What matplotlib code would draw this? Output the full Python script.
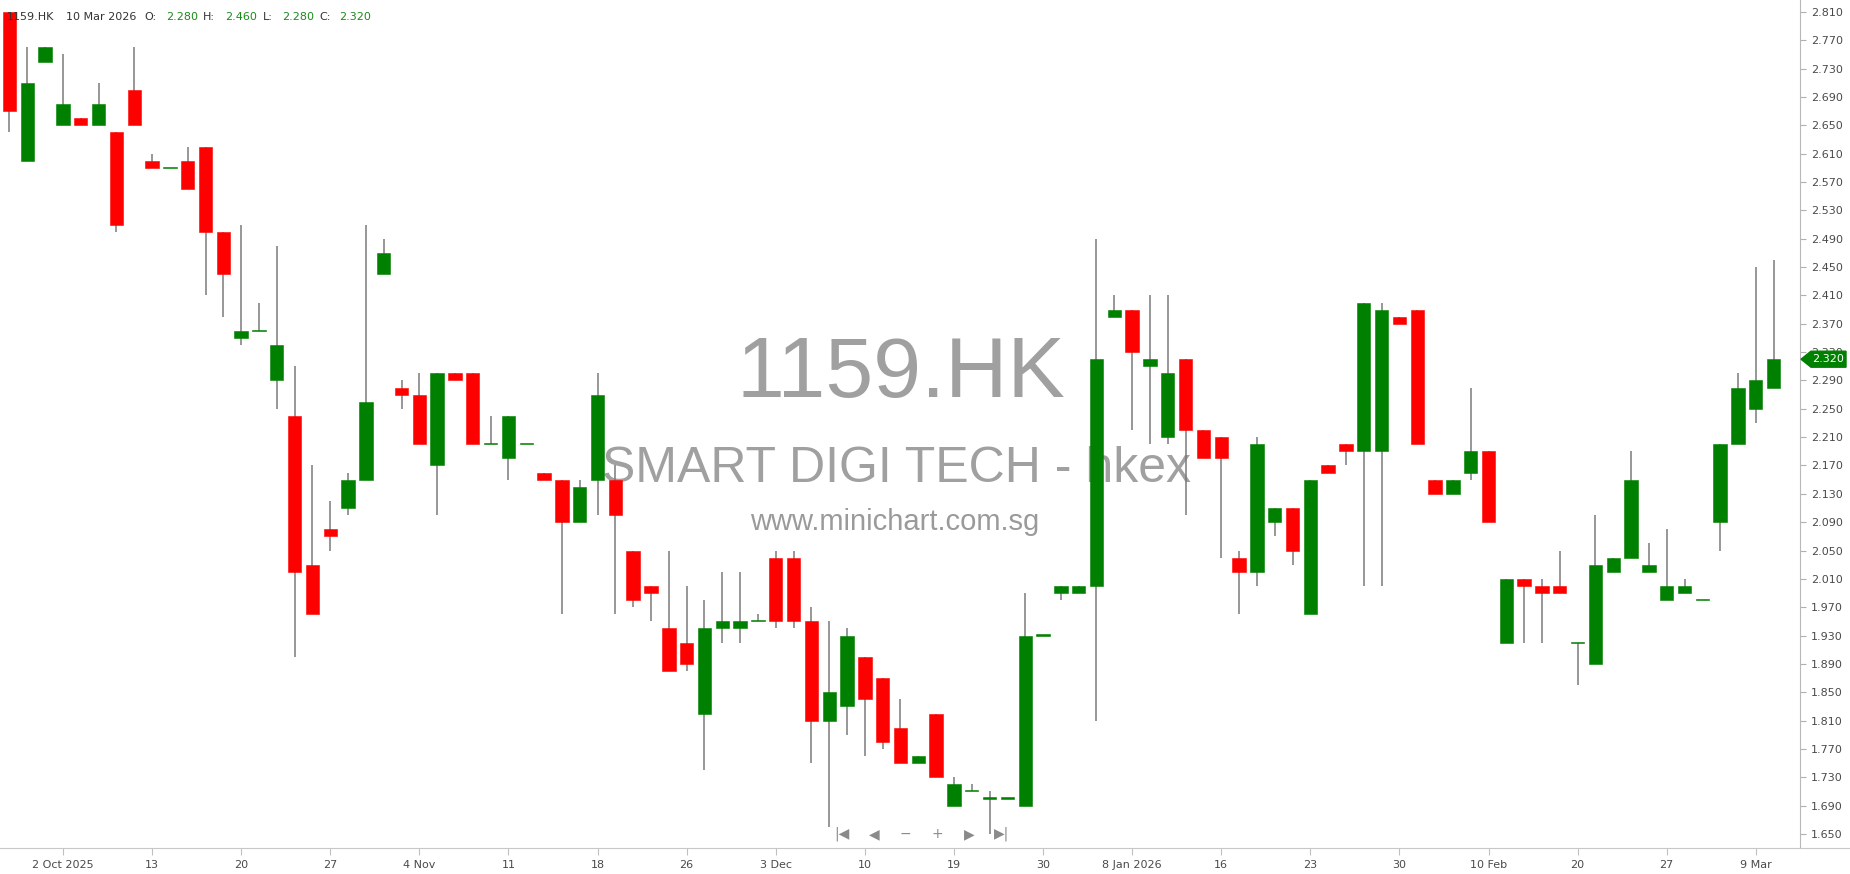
import matplotlib
matplotlib.use("Agg")
import matplotlib.pyplot as plt
from matplotlib.patches import Polygon
from matplotlib.transforms import IdentityTransform
import numpy as np

# ---------------- data ----------------
opens = [2.81, 2.60, 2.74, 2.65, 2.66, 2.65, 2.64, 2.70, 2.60, 2.59,
         2.60, 2.62, 2.50, 2.35, 2.36, 2.29, 2.24, 2.03, 2.08, 2.11,
         2.15, 2.44, 2.28, 2.27, 2.17, 2.30, 2.30, 2.20, 2.18, 2.20,
         2.16, 2.15, 2.09, 2.15, 2.15, 2.05, 2.00, 1.94, 1.92, 1.82,
         1.94, 1.94, 1.95, 2.04, 2.04, 1.95, 1.81, 1.83, 1.90, 1.87,
         1.80, 1.75, 1.82, 1.69, 1.71, 1.70, 1.70, 1.69, 1.93, 1.99,
         1.99, 2.00, 2.38, 2.39, 2.31, 2.21, 2.32, 2.22, 2.21, 2.04,
         2.02, 2.09, 2.11, 1.96, 2.17, 2.20, 2.19, 2.19, 2.38, 2.39,
         2.15, 2.13, 2.16, 2.19, 1.92, 2.01, 2.00, 2.00, 1.92, 1.89,
         2.02, 2.04, 2.02, 1.98, 1.99, 1.98, 2.09, 2.20, 2.25, 2.28]
highs = [2.81, 2.76, 2.76, 2.75, 2.66, 2.71, 2.64, 2.76, 2.61, 2.59,
         2.62, 2.62, 2.50, 2.51, 2.40, 2.48, 2.31, 2.17, 2.12, 2.16,
         2.51, 2.49, 2.29, 2.30, 2.30, 2.30, 2.30, 2.24, 2.24, 2.20,
         2.16, 2.15, 2.15, 2.30, 2.17, 2.05, 2.00, 2.05, 2.00, 1.98,
         2.02, 2.02, 1.96, 2.05, 2.05, 1.97, 1.95, 1.94, 1.90, 1.87,
         1.84, 1.76, 1.82, 1.73, 1.72, 1.71, 1.70, 1.99, 1.93, 2.00,
         2.00, 2.49, 2.41, 2.39, 2.41, 2.41, 2.32, 2.22, 2.21, 2.05,
         2.21, 2.11, 2.11, 2.15, 2.17, 2.20, 2.40, 2.40, 2.38, 2.39,
         2.15, 2.15, 2.28, 2.19, 2.01, 2.01, 2.01, 2.05, 1.92, 2.10,
         2.04, 2.19, 2.06, 2.08, 2.01, 1.98, 2.20, 2.30, 2.45, 2.46]
lows = [2.64, 2.60, 2.74, 2.65, 2.65, 2.65, 2.50, 2.65, 2.59, 2.59,
        2.56, 2.41, 2.38, 2.34, 2.36, 2.25, 1.90, 1.96, 2.05, 2.10,
        2.15, 2.44, 2.25, 2.20, 2.10, 2.29, 2.20, 2.20, 2.15, 2.20,
        2.15, 1.96, 2.09, 2.10, 1.96, 1.97, 1.95, 1.88, 1.88, 1.74,
        1.92, 1.92, 1.95, 1.94, 1.94, 1.75, 1.66, 1.79, 1.76, 1.77,
        1.75, 1.75, 1.73, 1.69, 1.71, 1.65, 1.70, 1.69, 1.93, 1.98,
        1.99, 1.81, 2.38, 2.22, 2.20, 2.20, 2.10, 2.18, 2.04, 1.96,
        2.00, 2.07, 2.03, 1.96, 2.16, 2.17, 2.00, 2.00, 2.37, 2.20,
        2.13, 2.13, 2.15, 2.09, 1.92, 1.92, 1.92, 1.99, 1.86, 1.89,
        2.02, 2.04, 2.02, 1.98, 1.99, 1.98, 2.05, 2.20, 2.23, 2.28]
closes = [2.67, 2.71, 2.76, 2.68, 2.65, 2.68, 2.51, 2.65, 2.59, 2.59,
          2.56, 2.50, 2.44, 2.36, 2.36, 2.34, 2.02, 1.96, 2.07, 2.15,
          2.26, 2.47, 2.27, 2.20, 2.30, 2.29, 2.20, 2.20, 2.24, 2.20,
          2.15, 2.09, 2.14, 2.27, 2.10, 1.98, 1.99, 1.88, 1.89, 1.94,
          1.95, 1.95, 1.95, 1.95, 1.95, 1.81, 1.85, 1.93, 1.84, 1.78,
          1.75, 1.76, 1.73, 1.72, 1.71, 1.70, 1.70, 1.93, 1.93, 2.00,
          2.00, 2.32, 2.39, 2.33, 2.32, 2.30, 2.22, 2.18, 2.18, 2.02,
          2.20, 2.11, 2.05, 2.15, 2.16, 2.19, 2.40, 2.39, 2.37, 2.20,
          2.13, 2.15, 2.19, 2.09, 2.01, 2.00, 1.99, 1.99, 1.92, 2.03,
          2.04, 2.15, 2.03, 2.00, 2.00, 1.98, 2.20, 2.28, 2.29, 2.32]

tick_idx = [3, 8, 13, 18, 23, 28, 33, 38, 43, 48,
            53, 58, 63, 68, 73, 78, 83, 88, 93, 98]
tick_labels = ["2 Oct 2025", "13", "20", "27", "4 Nov", "11", "18", "26", "3 Dec", "10",
               "19", "30", "8 Jan 2026", "16", "23", "30", "10 Feb", "20", "27", "9 Mar"]
price_ticks = [round(1.65 + 0.04 * k, 3) for k in range(30)]

symbol = "1159.HK"
company = "SMART DIGI TECH - hkex"
site = "www.minichart.com.sg"
last_date = "10 Mar 2026"

# ---------------- figure ----------------
W, H = 1850, 874
fig = plt.figure(figsize=(W / 100, H / 100), dpi=100)
fig.patch.set_facecolor("white")
ax = fig.add_axes([0, 26 / H, 1800 / W, 848 / H])
ax.set_facecolor("white")

o = np.array(opens); h = np.array(highs); l = np.array(lows); c = np.array(closes)
x = np.arange(len(o))
up = c >= o
cols = np.where(up, "#008000", "#ff0000")
bottom = np.minimum(o, c)
height = np.maximum(np.abs(c - o), 0.0016)

ax.vlines(x, l, h, color="#7a7a7a", linewidth=1.1, zorder=2)
ax.bar(x, height, bottom=bottom, width=0.75, color=cols, edgecolor=cols,
       linewidth=0.4, zorder=3)

ax.set_xlim(-0.533, 100.48)
ax.set_ylim(1.6302, 2.8269)

# axes styling
for s in ["top", "left"]:
    ax.spines[s].set_visible(False)
ax.spines["right"].set_color("#b8b8b8")
ax.spines["bottom"].set_color("#c8c8c8")
ax.yaxis.tick_right()
ax.set_yticks(price_ticks)
ax.set_yticklabels([f"{p:.3f}" for p in price_ticks])
ax.tick_params(axis="y", direction="out", length=4, pad=4, colors="#b0b0b0",
               labelcolor="#4a4a4a", labelsize=8)
ax.set_xticks(tick_idx)
ax.set_xticklabels(tick_labels)
ax.tick_params(axis="x", direction="out", length=5, pad=4, colors="#c0c0c0",
               labelcolor="#4a4a4a", labelsize=8)

# bottom line extension under the price axis
fig.add_artist(plt.Line2D([1800 / W, 1.0], [26 / H, 26 / H], color="#c8c8c8",
                          linewidth=0.8, transform=fig.transFigure))

# watermark (under candles)
wm = "#a0a0a0"
ax.text(901 / W, 1 - 397 / H, symbol, transform=fig.transFigure, ha="center",
        va="baseline", fontsize=62, color=wm, family="Liberation Sans", zorder=0.5)
ax.text(897 / W, 1 - 482 / H, company, transform=fig.transFigure, ha="center",
        va="baseline", fontsize=36, color=wm, family="Liberation Sans", zorder=0.5)
ax.text(895 / W, 1 - 530 / H, site, transform=fig.transFigure, ha="center",
        va="baseline", fontsize=21, color="#9a9a9a", family="Liberation Sans", zorder=0.5)

# header
hy = 1 - 17 / H
dark = "#333333"
grn = "#1a8a1a"
def fmt(v):
    return f"{v:.3f}"
pieces = [(7, symbol, dark), (66, last_date, dark),
          (144, "O:", dark), (166, fmt(o[-1]), grn),
          (203, "H:", dark), (225, fmt(h[-1]), grn),
          (263, "L:", dark), (282, fmt(l[-1]), grn),
          (319, "C:", dark), (339, fmt(c[-1]), grn)]
for px, t, colr in pieces:
    fig.text(px / W, hy, t, ha="left", va="center", fontsize=8, color=colr, zorder=10)

# navigation icons
nav = [(842, "|◀"), (874, "◀"), (905, "−"), (937, "+"), (969, "▶"), (1002, "▶|")]
for px, t in nav:
    fig.text(px / W, 1 - 834 / H, t, ha="center", va="center", fontsize=10,
             color="#8a8a8a", zorder=10)

# last price marker
fig.canvas.draw()
ypix = ax.transData.transform((0, c[-1]))[1]
pts = [(1801, ypix), (1811, ypix + 8), (1846, ypix + 8), (1846, ypix - 8), (1811, ypix - 8)]
marker = Polygon(pts, closed=True, facecolor="#008000", edgecolor="#008000",
                 transform=IdentityTransform(), zorder=20)
fig.add_artist(marker)
fig.text(1828 / W, ypix / H, fmt(c[-1]), ha="center", va="center", fontsize=8,
         color="white", zorder=21)

fig.savefig("out.png", dpi=100, facecolor="white")
